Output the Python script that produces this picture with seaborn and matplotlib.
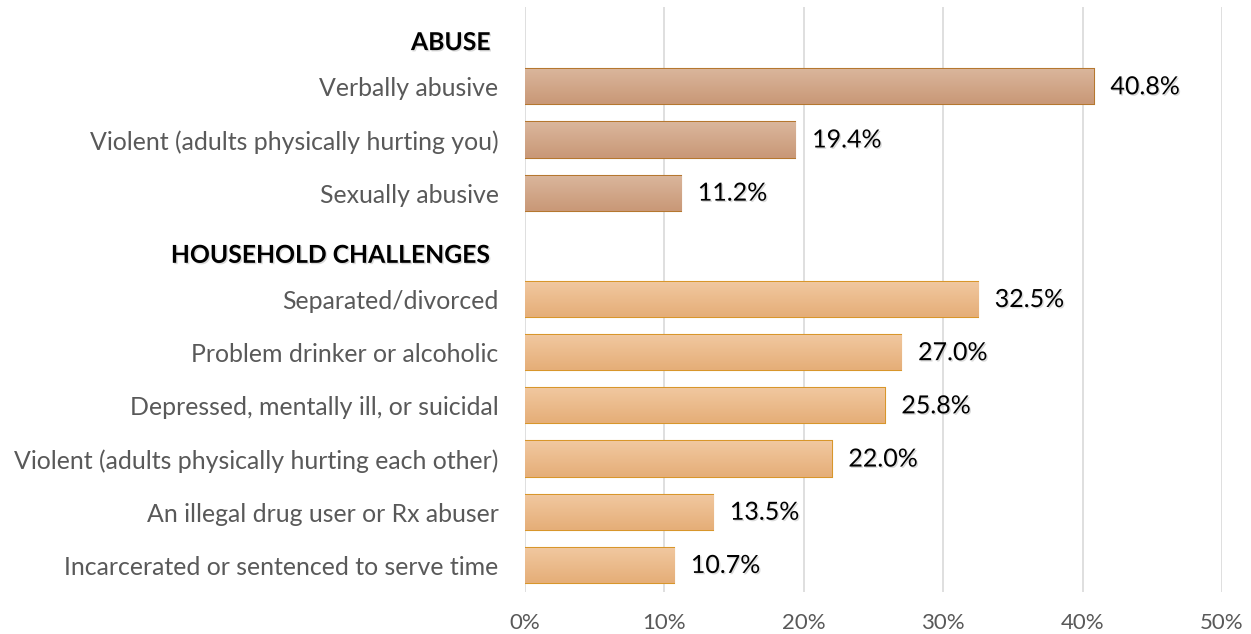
import numpy as np
import pandas as pd
import matplotlib
matplotlib.use("Agg")
import matplotlib.pyplot as plt
import matplotlib.patheffects as pe
import matplotlib.transforms as mtransforms
from matplotlib.colors import LinearSegmentedColormap
import seaborn as sns

# ---- data ----
groups = ["ABUSE", "HOUSEHOLD CHALLENGES"]
abuse_items = ["Verbally abusive",
               "Violent (adults physically hurting you)",
               "Sexually abusive"]
abuse_values = [40.8, 19.4, 11.2]
household_items = ["Separated/divorced",
                   "Problem drinker or alcoholic",
                   "Depressed, mentally ill, or suicidal",
                   "Violent (adults physically hurting each other)",
                   "An illegal drug user or Rx abuser",
                   "Incarcerated or sentenced to serve time"]
household_values = [32.5, 27.0, 25.8, 22.0, 13.5, 10.7]
x_ticks = [0, 10, 20, 30, 40, 50]

df = pd.DataFrame({
    "item": abuse_items + household_items,
    "value": abuse_values + household_values,
    "group": [groups[0]] * len(abuse_items) + [groups[1]] * len(household_items),
})
order = [groups[0]] + abuse_items + [groups[1]] + household_items

sns.set_theme(style="white")
plt.rcParams["font.family"] = ["Lato", "DejaVu Sans"]

fig = plt.figure(figsize=(12.51, 6.34), dpi=100)
ax = fig.add_axes([525 / 1251, 1 - 592 / 634, (1222 - 525) / 1251, (592 - 7) / 634])

face = {groups[0]: "#d1a688", groups[1]: "#ebbb8c"}
edge = {groups[0]: "#b5772f", groups[1]: "#d8962b"}
grad = {groups[0]: ("#dab69c", "#c99877"), groups[1]: ("#f1c8a0", "#e5ae78")}

sns.barplot(data=df, y="item", x="value", hue="group", order=order,
            palette=face, dodge=False, legend=False, width=0.66,
            orient="h", ax=ax, zorder=3)

ax.set_xlim(0, 50)
ax.set_ylim(len(order) - 0.5, -0.5)

shadow = [pe.withSimplePatchShadow(offset=(1, -1), shadow_rgbFace="#888888",
                                   alpha=0.3)]

# vertical gradient fill and outline for each bar
row_group = dict(zip(df["item"], df["group"]))
for patch in ax.patches:
    w, h = patch.get_width(), patch.get_height()
    if not np.isfinite(w) or w <= 0:
        continue
    x0, y0 = patch.get_x(), patch.get_y()
    yc = y0 + h / 2
    g = row_group[order[int(round(yc))]]
    patch.set_edgecolor(edge[g])
    patch.set_linewidth(1.5)
    cmap = LinearSegmentedColormap.from_list("g", list(grad[g]))
    img = ax.imshow(np.linspace(0, 1, 64).reshape(-1, 1), cmap=cmap,
                    aspect="auto", extent=[x0, x0 + w, y0 + h, y0],
                    zorder=3.5, interpolation="bicubic")
    img.set_clip_path(patch)
    ax.annotate(f"{w:.1f}%", xy=(x0 + w, yc), xytext=(12, 0),
                textcoords="offset points", va="center", ha="left",
                fontsize=18, color="black", zorder=5, path_effects=shadow)

ax.set_xticks(x_ticks)
ax.set_xticklabels([f"{t}%" for t in x_ticks], fontsize=16, color="#595959")
ax.tick_params(axis="x", length=0, pad=15)
ax.tick_params(axis="y", length=0, pad=19)
ax.grid(axis="x", color="#d9d9d9", linewidth=1.2, zorder=0)
ax.grid(axis="y", visible=False)
for s in ax.spines.values():
    s.set_visible(False)
ax.set_xlabel("")
ax.set_ylabel("")

header_shift = mtransforms.ScaledTranslation(-8 / 100, -7 / 100, fig.dpi_scale_trans)
for lbl in ax.get_yticklabels():
    if lbl.get_text() in groups:
        lbl.set_fontsize(17.8)
        lbl.set_fontweight("bold")
        lbl.set_color("black")
        lbl.set_transform(lbl.get_transform() + header_shift)
        lbl.set_path_effects(shadow)
    else:
        lbl.set_fontsize(17.9)
        lbl.set_color("#595959")

fig.savefig("out.png", dpi=100, facecolor="white")
